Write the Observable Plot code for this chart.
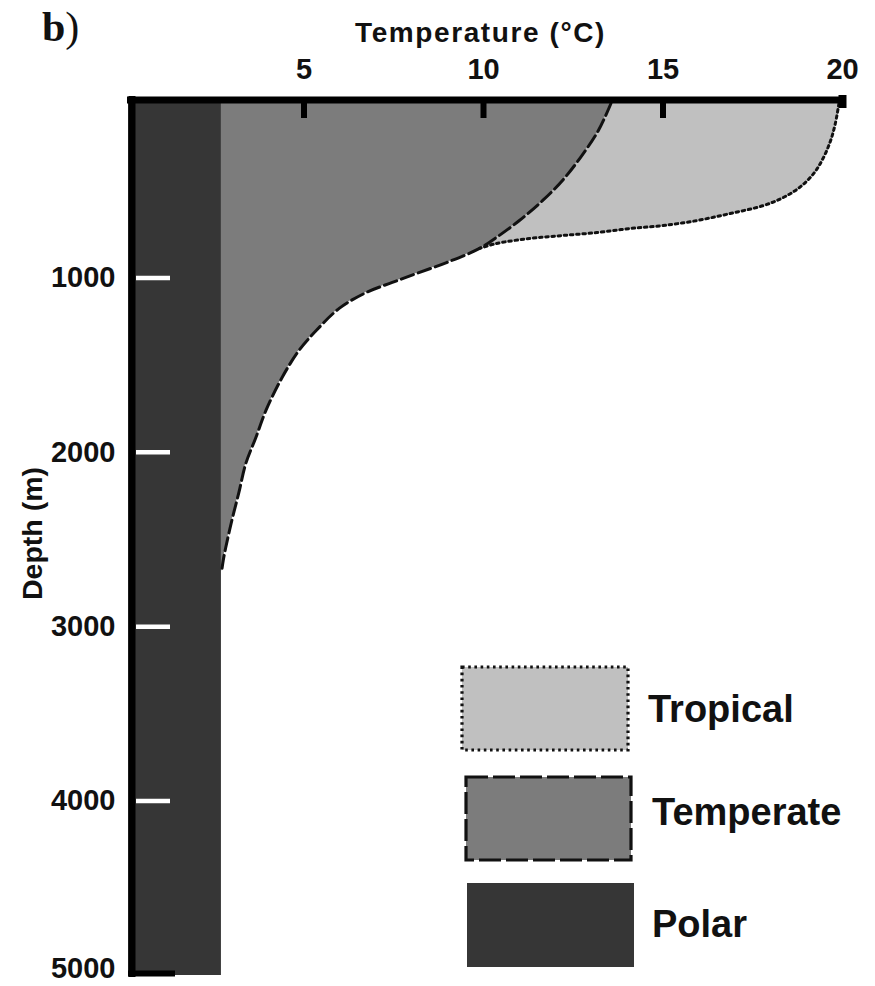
<!DOCTYPE html>
<html><head><meta charset="utf-8">
<script src="https://cdn.jsdelivr.net/npm/d3@7"></script>
<script src="https://cdn.jsdelivr.net/npm/@observablehq/plot@0.6"></script>
<style>
html,body{margin:0;padding:0;background:#fff;}
#wrap{position:relative;width:875px;height:986px;overflow:hidden;}
#wrap svg{position:absolute;left:0;top:0;}
</style></head><body><div id="wrap"></div>
<script>
// ---- data ----
const xTicks = [5, 10, 15, 20];
const yTicks = [1000, 2000, 3000, 4000, 5000];
const xLabel = "Temperature (°C)";
const yLabel = "Depth (m)";
const panelLabel = "b";
const polarTemp = 2.7;
const maxDepth = 5000;
const temperateDepth = [0, 155, 310, 441, 556, 671, 768, 831, 912, 975, 1026, 1084, 1175, 1302, 1416, 1571, 1760, 1915, 2064, 2236, 2391, 2546, 2620, 2690];
const temperateTemp  = [13.55, 13.2, 12.7, 12.2, 11.65, 11.0, 10.36, 9.89, 8.97, 8.13, 7.46, 6.73, 5.98, 5.34, 4.86, 4.39, 3.94, 3.66, 3.38, 3.18, 2.99, 2.82, 2.75, 2.7];
const tropicalDepth = [0, 115, 212, 310, 401, 482, 539, 585, 631, 671, 700, 717, 740, 757, 774, 803, 831];
const tropicalTemp  = [19.9, 19.8, 19.67, 19.47, 19.2, 18.8, 18.35, 17.8, 16.87, 15.95, 15.0, 14.08, 13.16, 12.2, 11.28, 10.36, 9.89];
const legendLabels = ["Tropical", "Temperate", "Polar"];
const legendColors = ["#c0c0c0", "#7c7c7c", "#363636"];
const legendDash = ["2.6,3.6", "22,5", null];

// ---- build ----
const temperate = temperateDepth.map((d, i) => ({depth: d, temp: temperateTemp[i]}));
const tropical = tropicalDepth.map((d, i) => ({depth: d, temp: tropicalTemp[i]}));
const font = "'Liberation Sans', Arial, Helvetica, sans-serif";
const bottomTick = d3.max(yTicks);
const endTick = d3.max(xTicks);
const axisStyle = {tickSize: 0, tickFormat: "d", fontSize: 29, fontWeight: "bold", label: null, fill: "#111"};

const chart = Plot.plot({
  width: 875, height: 986,
  marginTop: 103, marginBottom: 11, marginLeft: 124, marginRight: 33,
  style: {background: "transparent", fontFamily: font, overflow: "visible"},
  x: {domain: [0, 20]},
  y: {domain: [0, maxDepth], reverse: true},
  marks: [
    Plot.areaX(tropical, {x1: polarTemp, x2: "temp", y: "depth", fill: legendColors[0], curve: "catmull-rom"}),
    Plot.areaX(temperate, {x1: polarTemp, x2: "temp", y: "depth", fill: legendColors[1], curve: "catmull-rom"}),
    Plot.rectX([{t: polarTemp, d: maxDepth}], {x1: 0, x2: "t", y1: 0, y2: "d", insetLeft: 4, fill: legendColors[2]}),
    Plot.line(tropical, {x: "temp", y: "depth", stroke: "#111", strokeWidth: 3, strokeDasharray: legendDash[0], curve: "catmull-rom"}),
    Plot.line(temperate, {x: "temp", y: "depth", stroke: "#111", strokeWidth: 3, strokeDasharray: "13,5", curve: "catmull-rom"}),
    // frame lines
    Plot.ruleY([0], {stroke: "#000", strokeWidth: 7, dy: -3.5, insetLeft: 3, insetRight: -4}),
    Plot.ruleX([0], {stroke: "#000", strokeWidth: 7, dx: 7.5, insetTop: -7, insetBottom: -2}),
    // tick marks
    Plot.tickX(xTicks.filter(t => t < endTick), {x: d => d, stroke: "#000", strokeWidth: 6, insetBottom: 857}),
    Plot.tickX(xTicks.filter(t => t === endTick), {x: d => d, stroke: "#000", strokeWidth: 8, insetBottom: 867, insetTop: -8}),
    Plot.tickY(yTicks.filter(t => t < bottomTick), {y: d => d, stroke: "#fff", strokeWidth: 4.5, insetLeft: 12, insetRight: 672}),
    Plot.tickY(yTicks.filter(t => t === bottomTick), {y: d => d, stroke: "#000", strokeWidth: 6, insetLeft: 4, insetRight: 667, dy: -2}),
    // axes
    Plot.axisX(xTicks, {anchor: "top", tickPadding: 25, ...axisStyle}),
    Plot.axisY(yTicks.filter(t => t < bottomTick), {anchor: "left", tickPadding: 9, ...axisStyle}),
    Plot.axisY(yTicks.filter(t => t === bottomTick), {anchor: "left", tickPadding: 9, dy: -7, ...axisStyle}),
    Plot.text([xLabel], {text: d => d, frameAnchor: "top", lineAnchor: "middle", textAnchor: "middle", dy: -70, dx: -3, fontSize: 28, fontWeight: "bold", fill: "#111"}),
    Plot.text([yLabel], {text: d => d, frameAnchor: "left", rotate: -90, textAnchor: "middle", lineAnchor: "middle", dx: -92, dy: -6, fontSize: 28.5, fontWeight: "bold", fill: "#111"})
  ]
});
document.getElementById("wrap").appendChild(chart);
d3.select(chart).selectAll("text").filter(function() { return this.textContent === xLabel; })
  .style("letter-spacing", "1.6px");

// ---- legend & panel label overlay ----
const ov = d3.select("#wrap").append("svg").attr("width", 875).attr("height", 986)
  .style("pointer-events", "none");
const boxes = [
  {x: 462, y: 667, w: 166, h: 83, tx: 648, ty: 722},
  {x: 466, y: 777, w: 165, h: 83, tx: 652, ty: 825},
  {x: 467, y: 883, w: 167, h: 84, tx: 652, ty: 937}
];
legendLabels.forEach((lab, i) => {
  const b = boxes[i];
  ov.append("rect").attr("x", b.x).attr("y", b.y).attr("width", b.w).attr("height", b.h)
    .attr("fill", legendColors[i])
    .attr("stroke", legendDash[i] ? "#111" : "none")
    .attr("stroke-width", 3.2)
    .attr("stroke-dasharray", legendDash[i]);
  ov.append("text").attr("x", b.tx).attr("y", b.ty).text(lab)
    .style("font-family", font).style("font-weight", "bold").style("font-size", "38px").attr("fill", "#111");
});
const pl = ov.append("text").attr("x", 42).attr("y", 41)
  .style("font-family", "'Liberation Serif', 'DejaVu Serif', serif").style("font-size", "42px").attr("fill", "#111");
pl.append("tspan").style("font-weight", "bold").text(panelLabel);
pl.append("tspan").text(")");
</script>
</body></html>
